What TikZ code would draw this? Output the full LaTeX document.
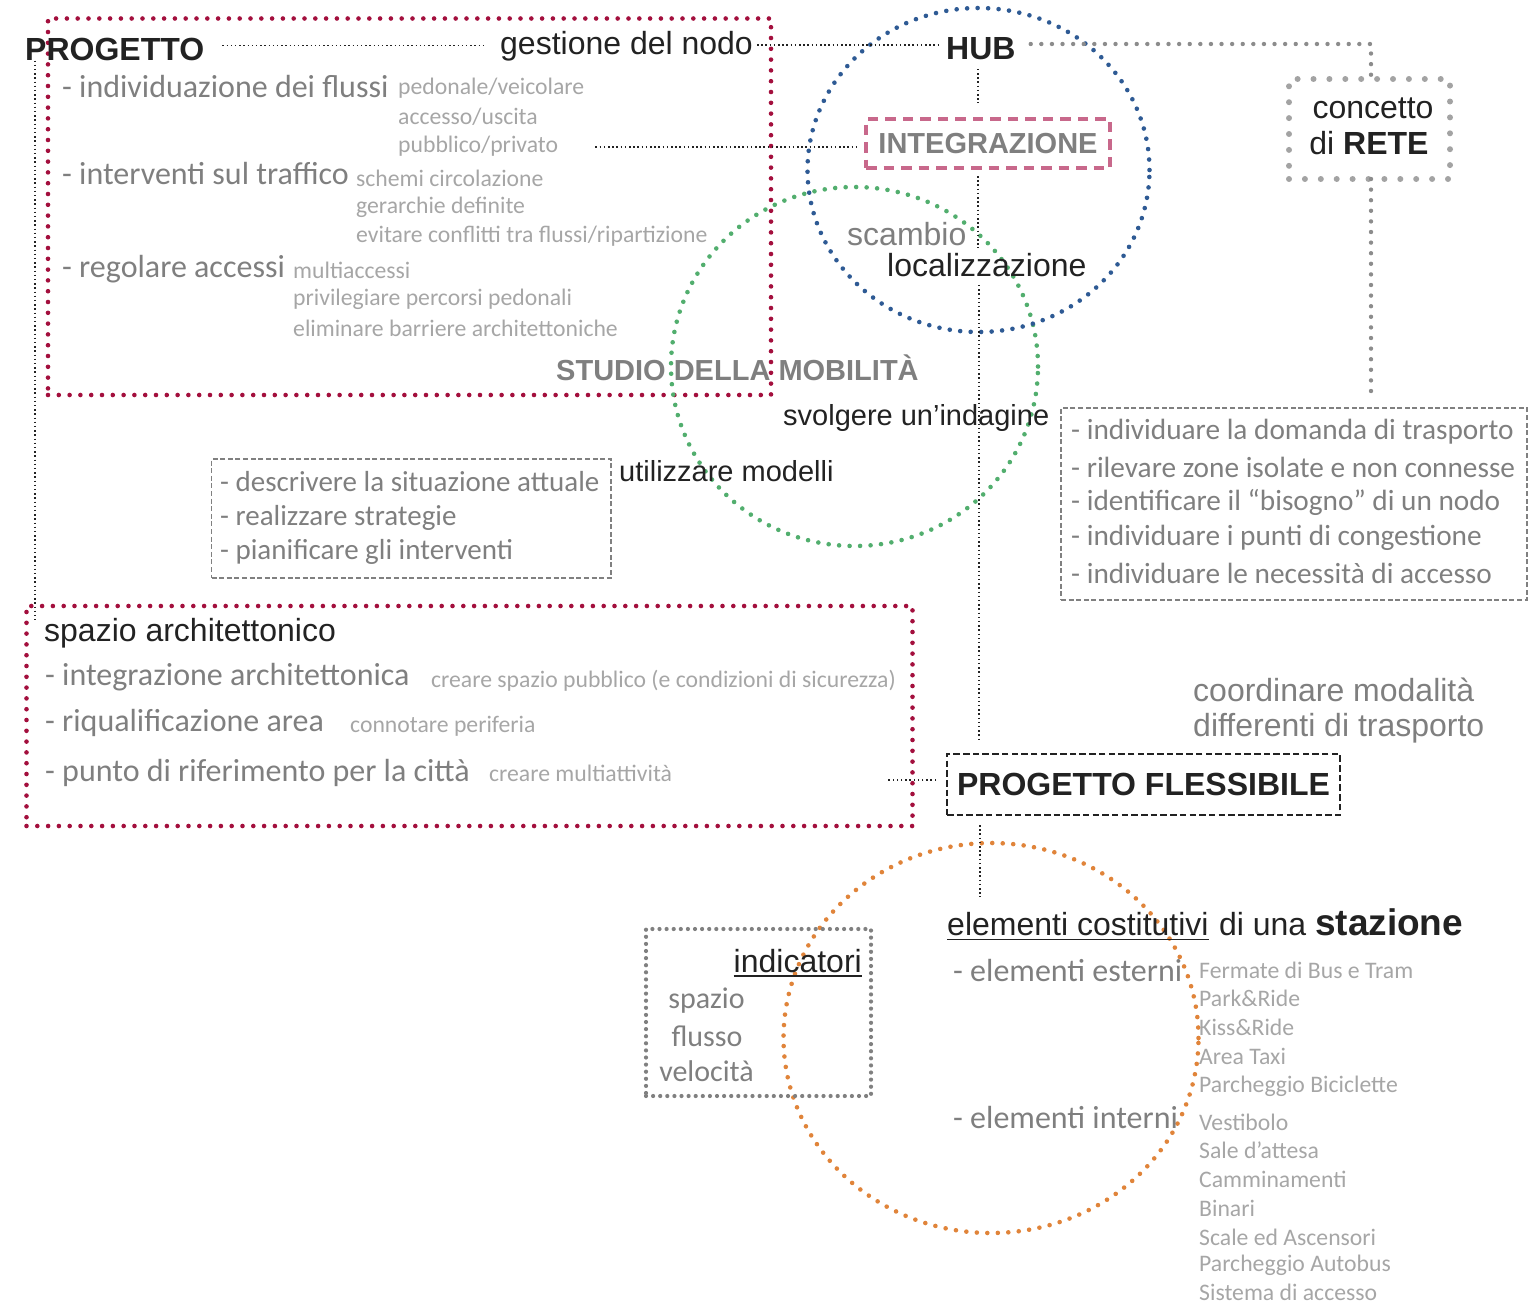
\documentclass[tikz,border=0pt]{standalone}
\usepackage{fontspec}
\setmainfont{Liberation Sans}
\newfontfamily\calfont{Carlito}
\usetikzlibrary{shapes.geometric}
\definecolor{crimson}{HTML}{A30F3D}
\definecolor{hubblue}{HTML}{2E5A94}
\definecolor{mobgreen}{HTML}{52AE6E}
\definecolor{stationorange}{HTML}{E0843A}
\definecolor{pinkdash}{HTML}{C8688B}
\definecolor{txtdark}{HTML}{222222}
\definecolor{txtgray}{HTML}{7F7F7F}
\definecolor{txtlight}{HTML}{A6A6A6}
\definecolor{dotgray}{HTML}{A3A3A3}
\definecolor{linegray}{HTML}{8C8C8C}
\definecolor{boxgray}{HTML}{808080}
\newcommand\fsz[1]{\fontsize{#1}{#1}\selectfont}

\begin{document}
\begin{tikzpicture}[x=1pt,y=-1pt,
  lbl/.style={inner sep=0pt, anchor=west},
  headtxt/.style={lbl, text=txtdark, font=\fsz{32}},
  headbold/.style={lbl, text=txtdark, font=\bfseries\fsz{32}},
  graysans/.style={lbl, text=txtgray, font=\fsz{32}},
  itemtxt/.style={lbl, text=txtgray, font=\calfont\fsz{32}},
  subtxt/.style={lbl, text=txtlight, font=\calfont\fsz{23.7}},
  listtxt/.style={lbl, text=txtgray, font=\calfont\fsz{29}},
  frame/.style={inner sep=0pt, outer sep=0pt, rectangle},
  redframe/.style={frame, draw=crimson, line width=4.6pt, line cap=round, dash pattern=on 0pt off 10.8pt},
  ring/.style={ellipse, inner sep=0pt, outer sep=0pt, line width=4.6pt, line cap=round, dash pattern=on 0pt off 10.5pt},
  thindot/.style={draw=txtdark, line width=1.5pt, dash pattern=on 1.5pt off 2.7pt},
  graydotline/.style={draw=linegray, line width=4.4pt, line cap=round, dash pattern=on 0pt off 10.6pt},
  graydotframe/.style={frame, draw=dotgray, line width=6pt, line cap=round, dash pattern=on 0pt off 15.9pt},
  inddotframe/.style={frame, draw=boxgray, line width=4.2pt, line cap=round, dash pattern=on 0pt off 7.1pt},
  graydash/.style={frame, draw=boxgray, line width=1.6pt, dash pattern=on 5pt off 2.6pt},
  pinkframe/.style={frame, draw=pinkdash, line width=4pt, dash pattern=on 10.5pt off 7pt},
  blackdash/.style={frame, draw=txtdark, line width=2.2pt, dash pattern=on 6.5pt off 3.2pt},
  underl/.style={draw=txtdark, line width=1.7pt}
]
\useasboundingbox (0,0) rectangle (1528,1304);

% ---------- frames ----------
\node[redframe, minimum width=723pt, minimum height=376.5pt] (projframe) at (409.5,206.75) {};
\node[redframe, minimum width=886pt, minimum height=220pt] (archframe) at (469.5,716) {};

% ---------- rings ----------
\node[ring, draw=mobgreen, minimum width=367pt, minimum height=359pt] (mobring) at (854.5,366.5) {};
\node[ring, draw=hubblue, minimum width=342pt, minimum height=324pt] (hubring) at (978.5,170) {};
\node[ring, draw=stationorange, minimum width=415pt, minimum height=390pt] (stationring) at (991,1038) {};

% ---------- top line ----------
\node[headbold] (progetto) at (25,49) {PROGETTO};
\node[headtxt] (gestione) at (500,46) {gestione del nodo};
\node[headbold] (hub) at (946,48.5) {HUB};

\node[graydotframe, minimum width=161pt, minimum height=100pt] (rete) at (1369.5,129) {};
\node[inner sep=0pt, text=txtdark, font=\fsz{32}] (concetto) at (1373,108) {concetto};
\node[inner sep=0pt, text=txtdark, font=\fsz{32}] (direte) at (1369,143) {di \textbf{RETE}};

\node[pinkframe, minimum width=244pt, minimum height=49pt, text=txtgray,
      font=\bfseries\fsz{29}] (integ) at (988,143.5) {INTEGRAZIONE};

% ---------- PROGETTO items ----------
\node[itemtxt] (flussi) at (62,87) {- individuazione dei flussi};
\node[subtxt] (pedon) at (398,88) {pedonale/veicolare};
\node[subtxt] (accesso) at (398,117) {accesso/uscita};
\node[subtxt] (pubbl) at (398,146) {pubblico/privato};
\node[itemtxt] (traffico) at (62,174) {- interventi sul traffico};
\node[subtxt] (schemi) at (356,178) {schemi circolazione};
\node[subtxt] (gerarchie) at (356,207) {gerarchie definite};
\node[subtxt] (conflitti) at (356,236) {evitare conflitti tra flussi/ripartizione};
\node[itemtxt] (accessi) at (62,269) {- regolare accessi};
\node[subtxt] (multi) at (293,270) {multiaccessi};
\node[subtxt] (privil) at (293,299) {privilegiare percorsi pedonali};
\node[subtxt] (barriere) at (293,328) {eliminare barriere architettoniche};

% ---------- hub / mobility labels ----------
\node[graysans] (scambio) at (847,234) {scambio};
\node[headtxt] (local) at (887,265) {localizzazione};
\node[lbl, text=txtgray, font=\bfseries\fsz{29}] (studio) at (556,368) {STUDIO DELLA MOBILITÀ};
\node[lbl, text=txtdark, font=\fsz{29}] (indagine) at (783,418) {svolgere un’indagine};
\node[lbl, text=txtdark, font=\fsz{29}] (modelli) at (619,471) {utilizzare modelli};

% ---------- model box ----------
\node[graydash, minimum width=399.5pt, minimum height=119pt] (modelbox) at (411.25,518.5) {};
\node[listtxt] (descr) at (220,482) {- descrivere la situazione attuale};
\node[listtxt] (strat) at (220,518) {- realizzare strategie};
\node[listtxt] (pianif) at (220,552) {- pianificare gli interventi};

% ---------- survey box ----------
\node[graydash, minimum width=466pt, minimum height=192pt] (needs) at (1294,504) {};
\node[listtxt, font=\calfont\fsz{29.3}] (domanda) at (1071,432) {- individuare la domanda di trasporto};
\node[listtxt, font=\calfont\fsz{29.3}] (zone) at (1071,467) {- rilevare zone isolate e non connesse};
\node[listtxt, font=\calfont\fsz{29.3}] (bisogno) at (1071,502) {- identificare il “bisogno” di un nodo};
\node[listtxt, font=\calfont\fsz{29.3}] (congest) at (1071,538) {- individuare i punti di congestione};
\node[listtxt, font=\calfont\fsz{29.3}] (necess) at (1071,573) {- individuare le necessità di accesso};

% ---------- architectural space ----------
\node[headtxt] (spazioarch) at (44,633) {spazio architettonico};
\node[itemtxt] (integarch) at (45,677) {- integrazione architettonica};
\node[subtxt] (pubblico) at (431,681) {creare spazio pubblico (e condizioni di sicurezza)};
\node[itemtxt] (riqual) at (45,723) {- riqualificazione area};
\node[subtxt] (periferia) at (350,726) {connotare periferia};
\node[itemtxt] (riferim) at (45,773) {- punto di riferimento per la città};
\node[subtxt] (multiatt) at (489,773) {creare multiattività};

% ---------- flexible project ----------
\node[graysans] (coord1) at (1193,690) {coordinare modalità};
\node[graysans] (coord2) at (1193,728) {differenti di trasporto};
\node[blackdash, minimum width=393pt, minimum height=61pt, text=txtdark,
      font=\bfseries\fsz{32}] (flex) at (1143.5,784.5) {PROGETTO FLESSIBILE};

% ---------- station ----------
\node[headtxt] (costit) at (947,924.5) {elementi costitutivi};
\node[inner sep=0pt, anchor=base west, text=txtdark, font=\fsz{32}] (diuna)
      at ([xshift=10pt]costit.base east) {di una \textbf{\fsz{37}stazione}};
\draw[underl] ([shift={(0,3.5)}]costit.base west) -- ([shift={(0,3.5)}]costit.base east);

\node[inddotframe, minimum width=225pt, minimum height=167pt] (indbox) at (758.5,1012.5) {};
\node[headtxt, anchor=east] (indic) at (862,961) {indicatori};
\draw[underl] ([shift={(0,3.5)}]indic.base west) -- ([shift={(0,3.5)}]indic.base east);
\node[inner sep=0pt, text=txtgray, font=\calfont\fsz{30}] (ispazio) at (706.5,1001) {spazio};
\node[inner sep=0pt, text=txtgray, font=\calfont\fsz{30}] (iflusso) at (707,1036) {flusso};
\node[inner sep=0pt, text=txtgray, font=\calfont\fsz{30}] (ivel) at (706.5,1071) {velocità};

\node[itemtxt] (esterni) at (953,970) {- elementi esterni};
\node[subtxt] (fermate) at (1199,970) {Fermate di Bus e Tram};
\node[subtxt] (park) at (1199,998) {Park\&Ride};
\node[subtxt] (kiss) at (1199,1027) {Kiss\&Ride};
\node[subtxt] (taxi) at (1199,1056) {Area Taxi};
\node[subtxt] (bici) at (1199,1086) {Parcheggio Biciclette};
\node[itemtxt] (interni) at (953,1117) {- elementi interni};
\node[subtxt] (vestib) at (1199,1122) {Vestibolo};
\node[subtxt] (sale) at (1199,1150) {Sale d’attesa};
\node[subtxt] (cammin) at (1199,1179) {Camminamenti};
\node[subtxt] (binari) at (1199,1208) {Binari};
\node[subtxt] (scale) at (1199,1237) {Scale ed Ascensori};
\node[subtxt] (autobus) at (1199,1265) {Parcheggio Autobus};
\node[subtxt] (sistema) at (1199,1292) {Sistema di accesso};

% ---------- connectors ----------
\coordinate (spine) at (978,0);
\coordinate (leftdrop) at (35,620);
\draw[thindot] ([xshift=18pt]progetto.east |- 0,45.5) -- ([xshift=-15pt]gestione.west |- 0,45.5);
\draw[thindot] ([xshift=4pt]gestione.east |- 0,45) -- ([xshift=-6pt]hub.west |- 0,45);
\draw[thindot, shorten <=9pt, shorten >=16pt] (hub.south -| spine) -- (integ.north -| spine);
\draw[thindot, shorten <=8pt, shorten >=5pt] (integ.south -| spine) -- (local.north -| spine);
\draw[thindot, shorten <=8pt, shorten >=14pt] ([xshift=1pt]local.south -| spine) -- ([xshift=1pt]flex.north -| spine);
\draw[thindot, shorten <=10pt, shorten >=16pt] ([xshift=2pt]flex.south -| spine) -- ([xshift=2pt]costit.north -| spine);
\draw[thindot, shorten <=37pt, shorten >=8pt] ([yshift=-1pt]pubbl.east) -- ([yshift=-1pt]pubbl.east -| integ.west);
\draw[thindot] ([xshift=10pt]progetto.south west) -- (leftdrop);
\draw[thindot] ([shift={(-11,-4.5)}]flex.west) -- ([shift={(-61,-4.5)}]flex.west);
\draw[graydotline] ([shift={(15,-4.5)}]hub.east) -| ([xshift=1.5pt]rete.north);
\draw[graydotline, shorten >=13pt] ([xshift=1.5pt]rete.south) -- ([xshift=1.5pt]rete.south |- needs.north);
\end{tikzpicture}
\end{document}
